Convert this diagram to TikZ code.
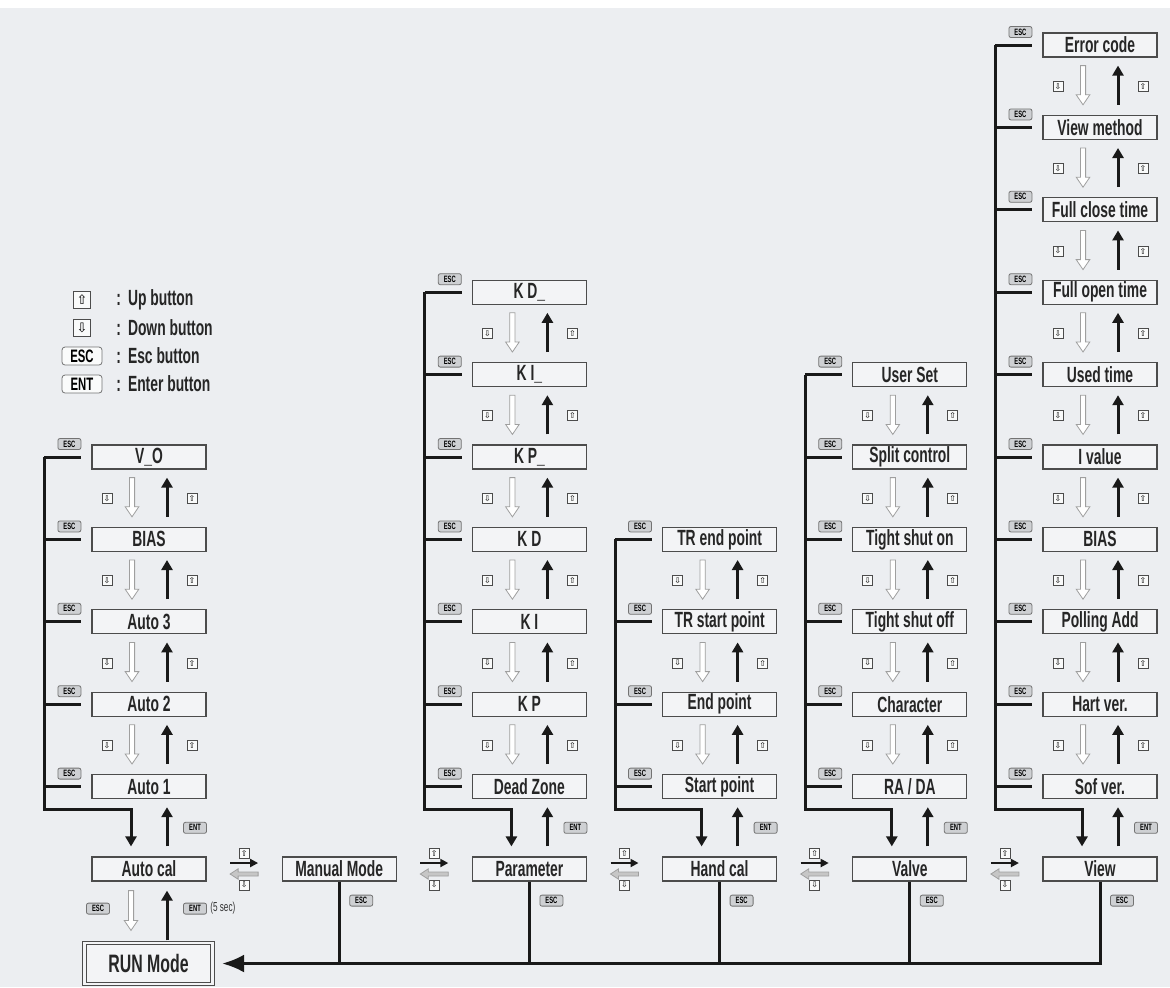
\documentclass[tikz,border=0pt]{standalone}
\usepackage{fontspec}
\setmainfont{Liberation Sans}[FakeStretch=0.63]
\newfontfamily\symfont{DejaVu Sans}
\usetikzlibrary{%
	positioning,
	calc,
	arrows.meta
}
\definecolor{panel}{RGB}{236,238,241}
\definecolor{boxfill}{RGB}{243,244,246}
\definecolor{tagfill}{RGB}{206,208,211}

% hollow grey arrows
\newcommand{\hollowdown}[2]{%
	\draw[hollow] let \p1=(#1), \p2=(#2) in
		(\x1-1.3pt,\y1) -- (\x1-1.3pt,\y2+5pt) -- (\x1-3.4pt,\y2+5pt) -- (\x1,\y2)
		-- (\x1+3.4pt,\y2+5pt) -- (\x1+1.3pt,\y2+5pt) -- (\x1+1.3pt,\y1) -- cycle;}
\newcommand{\hollowleft}[2]{%
	\draw[hollow,fill=gray!45] let \p1=(#1), \p2=(#2) in
		(\x1,\y1-1pt) -- (\x2+4pt,\y1-1pt) -- (\x2+4pt,\y1-2.6pt) -- (\x2,\y1)
		-- (\x2+4pt,\y1+2.6pt) -- (\x2+4pt,\y1+1pt) -- (\x1,\y1+1pt) -- cycle;}

% one menu column: #1 prefix, #2 number of entries, #3 entries from the bottom up
\newcommand{\menucolumn}[3]{%
	\foreach \entry [count=\i] in {#3} {
		\pgfmathtruncatemacro{\j}{\i-1}
		\node[state, above=28.6pt of #1-\j] (#1-\i) {\entry};
		\node[keytag] (#1-esc-\i) at ($(#1-\i.west)+(-22,-13)$) {ESC};
		\draw[spine] ($(#1-\i.west)+(-47,0)$) -- ($(#1-\i.west)+(-10,0)$);
		\draw[uparr] ($(#1-\j.north)+(18,-10)$) -- ($(#1-\i.south)+(18,8)$);
		\ifnum\i>1
			\hollowdown{$(#1-\i.south)+(-17,8)$}{$(#1-\j.north)+(-17,-10)$}
			\node[btn] (#1-dn-\i) at ($(#1-\i.south)!.5!(#1-\j.north)+(-42,0)$) {⇩};
			\node[btn] (#1-up-\i) at ($(#1-\i.south)!.5!(#1-\j.north)+(43,0)$) {⇧};
		\else
			\node[keytag] (#1-ent) at ($(#1-1.south)!.5!(#1-0.north)+(46,0)$) {ENT};
		\fi
	}
	\draw[spine,-{Triangle[length=5pt,width=5.5pt]}] ($(#1-#2.west)+(-47,0)$) |- ($(#1-1.south)+(-18,10)$) -- ($(#1-0.north)+(-18,-10)$);
}

\begin{document}
\begin{tikzpicture}[
		x=0.5pt,y=-0.5pt,
		state/.style={draw=black!70,line width=0.6pt,fill=boxfill,minimum width=57pt,minimum height=12pt,inner sep=0pt,text=black!85,font=\bfseries\fontsize{11}{12}\selectfont},
		runbox/.style={state,double=boxfill,double distance=1.2pt,minimum width=64pt,minimum height=20.5pt,font=\bfseries\fontsize{12.6}{14}\selectfont},
		keytag/.style={draw=black!55,fill=tagfill,rounded corners=1pt,line width=0.4pt,inner sep=0.5pt,minimum width=11.5pt,minimum height=5.5pt,font=\bfseries\fontsize{4.6}{5}\selectfont},
		btn/.style={draw=black!70,fill=boxfill!50!white,line width=0.4pt,minimum size=5pt,inner sep=0pt,font=\symfont\fontsize{4}{4}\selectfont},
		legtext/.style={anchor=west,inner sep=0pt,text=black!85,font=\bfseries\fontsize{11}{12}\selectfont},
		spine/.style={line width=1.5pt,black!90},
		uparr/.style={line width=1.5pt,black!90,-{Triangle[length=5pt,width=5.5pt]}},
		modearr/.style={line width=1pt,black!90,-{Triangle[length=4pt,width=4pt]}},
		hollow/.style={draw=gray!75,line width=0.4pt,fill=white}
	]
	\useasboundingbox (0,0) rectangle (1170,987);
	\fill[white] (0,0) rectangle (1170,987);
	\fill[panel] (0,8) rectangle (1170,987);
	
	%legend
	\node[btn,minimum size=8.5pt,font=\symfont\fontsize{6.5}{6.5}\selectfont] (leg-up) at (82,300) {⇧};
	\node[btn,minimum size=8.5pt,font=\symfont\fontsize{6.5}{6.5}\selectfont] (leg-dn) at (82,328) {⇩};
	\node[keytag,fill=boxfill!40!white,rounded corners=1.5pt,minimum width=20pt,minimum height=9pt,font=\bfseries\fontsize{9}{9}\selectfont] (leg-esc) at (82,356) {ESC};
	\node[keytag,fill=boxfill!40!white,rounded corners=1.5pt,minimum width=20pt,minimum height=9pt,font=\bfseries\fontsize{9}{9}\selectfont] (leg-ent) at (82,384) {ENT};
	\node[legtext] (leg-up-txt) at (116,300) {:\hspace{3.5pt}Up button};
	\node[legtext] (leg-dn-txt) at (116,328) {:\hspace{3.5pt}Down button};
	\node[legtext] (leg-esc-txt) at (116,356) {:\hspace{3.5pt}Esc button};
	\node[legtext] (leg-ent-txt) at (116,384) {:\hspace{3.5pt}Enter button};
	
	%modes
	\node[state] (auto-0) at (149,869) {Auto cal};
	\node[state, right=37.5pt of auto-0] (manual) {Manual Mode};
	\node[state, right=37.5pt of manual] (param-0) {Parameter};
	\node[state, right=37.5pt of param-0] (hand-0) {Hand cal};
	\node[state, right=37.5pt of hand-0] (valve-0) {Valve};
	\node[state, right=37.5pt of valve-0] (view-0) {View};
	\node[runbox] (run) at (148.5,963.5) {RUN Mode};
	
	%menu columns
	\menucolumn{auto}{5}{Auto 1,Auto 2,Auto 3,BIAS,V\_O}
	\menucolumn{param}{7}{Dead Zone,K P,K I,K D,K P\_,K I\_,K D\_}
	\menucolumn{hand}{4}{Start point,End point,TR start point,TR end point}
	\menucolumn{valve}{6}{RA / DA,Character,Tight shut off,Tight shut on,Split control,User Set}
	\menucolumn{view}{10}{Sof ver.,Hart ver.,Polling Add,BIAS,I value,Used time,Full open time,Full close time,View method,Error code}
	
	%switching between modes
	\foreach \a/\b in {auto-0/manual,manual/param-0,param-0/hand-0,hand-0/valve-0,valve-0/view-0} {
		\coordinate (\a-gap) at ($(\a.east)!.5!(\b.west)$);
		\draw[modearr] ($(\a-gap)+(-14,-6)$) -- ($(\a-gap)+(14,-6)$);
		\hollowleft{$(\a-gap)+(14,5)$}{$(\a-gap)+(-14,5)$}
		\node[btn] (\a-next) at ($(\a-gap)+(0,-16)$) {⇧};
		\node[btn] (\a-prev) at ($(\a-gap)+(0,16)$) {⇩};
	}
	
	%back to RUN Mode
	\foreach \m in {manual,param-0,hand-0,valve-0} {
		\draw[spine] (\m.south) -- (\m.south |- run.east);
		\node[keytag] (\m-esc) at ($(\m.south)+(22,19)$) {ESC};
	}
	\node[keytag] (view-0-esc) at ($(view-0.south)+(22,19)$) {ESC};
	\draw[spine,-{Latex[length=11pt,width=9pt]},shorten >=4.5pt] (view-0.south) |- (run.east);
	\hollowdown{$(auto-0.south)+(-18,9)$}{$(run.north)+(-17,-12)$}
	\draw[uparr] ($(run.north)+(18.5,-2)$) -- ($(auto-0.south)+(18,9)$);
	\node[keytag] (auto-0-esc) at ($(auto-0.south)+(-51,27)$) {ESC};
	\node[keytag] (auto-0-ent) at ($(auto-0.south)+(46,27)$) {ENT};
	\node[right=1.5pt of auto-0-ent,inner sep=0pt,text=black!80,font=\fontsize{6.5}{7}\selectfont] (auto-0-sec) {(5 sec)};
	
\end{tikzpicture}
\end{document}
